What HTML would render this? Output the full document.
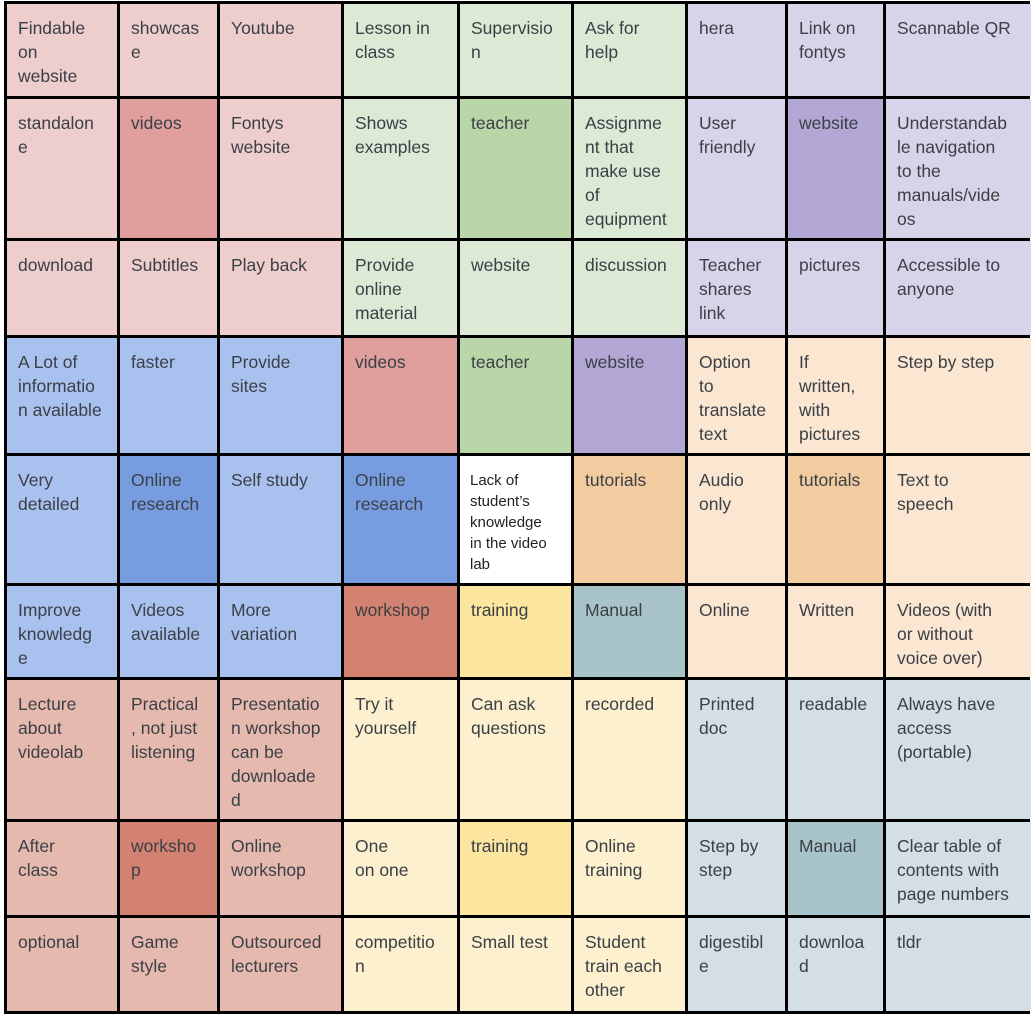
<!DOCTYPE html>
<html><head><meta charset="utf-8"><style>
body{margin:0;width:1033px;height:1016px;background:#fff;position:relative;overflow:hidden;font-family:"Liberation Sans",sans-serif;}
.c{position:absolute;box-sizing:border-box;padding:12px 0 0 11px;font-size:17.5px;line-height:24px;color:#3b4046;overflow:hidden;white-space:nowrap;}
.ln{position:absolute;background:#000;}
</style></head><body>
<div id="g"></div>
<script>
const X=[5,118,218,342,458,572,686,786,884,1031];
const Y=[2,97,239,336,454,584,678,820,916,1012];
const C={p:'#eecdcd',P:'#e09e9c',g:'#dce9d5',G:'#b9d6a8',u:'#d9d3e9',U:'#b3a7d6',b:'#a9c1ee',B:'#779de0',o:'#fae6d1',O:'#f3cba0',w:'#d38271',t:'#fbe59f',m:'#a8c4c9',y:'#fcf0cf',r:'#e6b9ae',s:'#d3dfe4',W:'#ffffff'};
const rows=[
['ppp ggg uuu',['Findable|on|website','showcas|e','Youtube','Lesson in|class','Supervisio|n','Ask for|help','hera','Link on|fontys','Scannable QR']],
['pPp gGg uUu',['standalon|e','videos','Fontys|website','Shows|examples','teacher','Assignme|nt that|make use|of|equipment','User|friendly','website','Understandab|le navigation|to the|manuals/vide|os']],
['ppp ggg uuu',['download','Subtitles','Play back','Provide|online|material','website','discussion','Teacher|shares|link','pictures','Accessible to|anyone']],
['bbb PGU ooo',['A Lot of|informatio|n available','faster','Provide|sites','videos','teacher','website','Option|to|translate|text','If|written,|with|pictures','Step by step']],
['bBb BWO oOo',['Very|detailed','Online|research','Self study','Online|research','*','tutorials','Audio|only','tutorials','Text to|speech']],
['bbb wtm ooo',['Improve|knowledg|e','Videos|available','More|variation','workshop','training','Manual','Online','Written','Videos (with|or without|voice over)']],
['rrr yyy sss',['Lecture|about|videolab','Practical|, not just|listening','Presentatio|n workshop|can be|downloade|d','Try it|yourself','Can ask|questions','recorded','Printed|doc','readable','Always have|access|(portable)']],
['rwr yty sms',['After|class','worksho|p','Online|workshop','One|on  one','training','Online|training','Step by|step','Manual','Clear table of|contents with|page numbers']],
['rrr yyy sss',['optional','Game|style','Outsourced|lecturers','competitio|n','Small test','Student|train each|other','digestibl|e','downloa|d','tldr']]];
let h='';
rows.forEach((r,i)=>{const cs=r[0].replace(/ /g,'');r[1].forEach((t,j)=>{
 const x=X[j]+2,y=Y[i]+2,w=X[j+1]-X[j]-(j==8?2:3),hh=Y[i+1]-Y[i]-3;
 let inner=t=='*'?'<div style="font-size:15px;line-height:21px;color:#222;padding-top:2px;margin-left:-1px">Lack of<br>student’s<br>knowledge<br>in the video<br>lab</div>':t.split('|').join('<br>');
 h+=`<div class="c" style="left:${x}px;top:${y}px;width:${w}px;height:${hh}px;background:${C[cs[j]]}">${inner}</div>`;});});
X.slice(0,9).forEach(x=>h+=`<div class="ln" style="left:${x-1}px;top:${Y[0]-1}px;width:2.5px;height:${Y[9]-Y[0]+3}px"></div>`);
Y.forEach(y=>h+=`<div class="ln" style="left:${X[0]-1}px;top:${y-1}px;width:${X[9]-X[0]}px;height:2.5px"></div>`);
document.getElementById('g').innerHTML=h;
</script>
</body></html>
